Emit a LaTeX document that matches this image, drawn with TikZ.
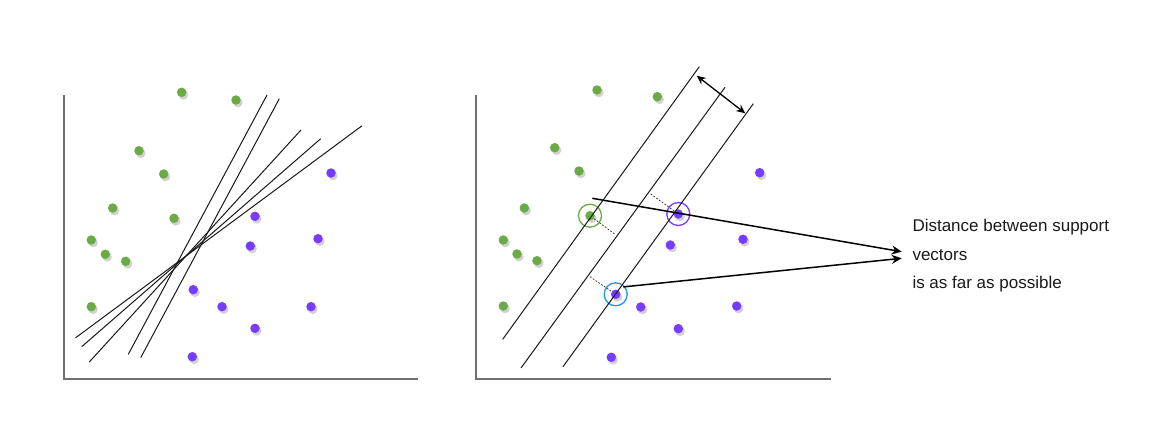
\documentclass[tikz,border=0pt]{standalone}
\usepackage{fontspec}
\setmainfont{Liberation Sans}
\usetikzlibrary{arrows.meta,shadows}
\definecolor{dotgreen}{RGB}{106,171,70}
\definecolor{dotpurple}{RGB}{118,60,255}
\definecolor{ringblue}{RGB}{30,150,240}
\definecolor{axisgray}{RGB}{112,112,112}
\definecolor{txt}{RGB}{25,25,25}
\tikzset{
  dotbase/.style={circle, inner sep=0pt, minimum size=9.5pt, draw=none,
    drop shadow={shadow xshift=1.8pt, shadow yshift=-2.6pt, fill=black, opacity=0.18}},
  gdot/.style={dotbase, fill=dotgreen},
  pdot/.style={dotbase, fill=dotpurple},
  ring/.style={circle, inner sep=0pt, minimum size=23pt, line width=1.3pt, fill=none},
  axisline/.style={draw=axisgray, line width=1.4pt},
  sepline/.style={draw=black!90, line width=1pt},
  pointer/.style={draw=black, line width=1.5pt, -{Stealth[length=10pt,width=9pt]}},
  gap/.style={draw=black, line width=1.3pt, {Stealth[length=9pt,width=8pt]}-{Stealth[length=9pt,width=8pt]}},
  dotted link/.style={draw=black!85, line width=0.7pt, dash pattern=on 1.8pt off 1.6pt},
  label/.style={anchor=base west, inner sep=0pt, text=txt, font=\fontsize{17}{20}\selectfont}
}
\begin{document}
\begin{tikzpicture}[x=1pt,y=-1pt]
\useasboundingbox (0,0) rectangle (1176,447);

% ---------------- left panel ----------------
\coordinate (LO) at (64,379);
\coordinate (LT) at (64,95);
\coordinate (LR) at (418,379);
\draw[axisline] (LT) -- (LO) -- (LR);

\node[gdot] (lg1) at (181.7,92.3) {};
\node[gdot] (lg2) at (236,100) {};
\node[gdot] (lg3) at (139,150.7) {};
\node[gdot] (lg4) at (163.7,174) {};
\node[gdot] (lg5) at (112.7,208) {};
\node[gdot] (lg6) at (174,218.3) {};
\node[gdot] (lg7) at (91.3,240) {};
\node[gdot] (lg8) at (105.3,254.3) {};
\node[gdot] (lg9) at (125.7,261.3) {};
\node[gdot] (lg10) at (91.3,306.7) {};

\node[pdot] (lp1) at (331,173) {};
\node[pdot] (lp2) at (255,216.3) {};
\node[pdot] (lp3) at (318,238.7) {};
\node[pdot] (lp4) at (250.3,246) {};
\node[pdot] (lp5) at (193.3,289.7) {};
\node[pdot] (lp6) at (222,306.7) {};
\node[pdot] (lp7) at (311,306.7) {};
\node[pdot] (lp8) at (255,328.3) {};
\node[pdot] (lp9) at (192.3,356.7) {};

\coordinate (l1a) at (75.7,337.7);  \coordinate (l1b) at (361.7,126);
\coordinate (l2a) at (81.7,346.7);  \coordinate (l2b) at (320.7,138.7);
\coordinate (l3a) at (89.3,362);    \coordinate (l3b) at (301,130);
\coordinate (l4a) at (128.3,354.3); \coordinate (l4b) at (267,95);
\coordinate (l5a) at (140.7,357.7); \coordinate (l5b) at (279.3,98.7);
\draw[sepline] (l1a) -- (l1b);
\draw[sepline] (l2a) -- (l2b);
\draw[sepline] (l3a) -- (l3b);
\draw[sepline] (l4a) -- (l4b);
\draw[sepline] (l5a) -- (l5b);

% ---------------- right panel ----------------
\coordinate (RO) at (476,379);
\coordinate (RT) at (476,95);
\coordinate (RR) at (831,379);
\draw[axisline] (RT) -- (RO) -- (RR);

\node[gdot] (rg1) at (597,90) {};
\node[gdot] (rg2) at (657.3,96.7) {};
\node[gdot] (rg3) at (554.7,147.7) {};
\node[gdot] (rg4) at (579,171) {};
\node[gdot] (rg5) at (524.3,208) {};
\node[gdot] (rg6) at (590,215.7) {};
\node[gdot] (rg7) at (503.3,240) {};
\node[gdot] (rg8) at (517,254) {};
\node[gdot] (rg9) at (537,260.7) {};
\node[gdot] (rg10) at (503.3,306) {};

\node[pdot] (rp1) at (759.7,172.7) {};
\node[pdot] (rp2) at (678.3,214) {};
\node[pdot] (rp3) at (743,239.3) {};
\node[pdot] (rp4) at (670.3,245) {};
\node[pdot] (rp5) at (615.7,294.3) {};
\node[pdot] (rp6) at (640.7,307) {};
\node[pdot] (rp7) at (736.7,306) {};
\node[pdot] (rp8) at (678.3,328.7) {};
\node[pdot] (rp9) at (611.3,357.3) {};

% support vector rings
\node[ring, draw=dotgreen] (ringg) at (rg6) {};
\node[ring, draw=dotpurple] (ringp) at (rp2) {};
\node[ring, draw=ringblue] (ringb) at (rp5) {};

% margin lines
\coordinate (mAa) at (502.7,339.3); \coordinate (mAb) at (699.3,66.7);
\coordinate (mBa) at (521,368);     \coordinate (mBb) at (725,87.3);
\coordinate (mCa) at (563,366.7);   \coordinate (mCb) at (753.3,103.7);
\draw[sepline] (mAa) -- (mAb);
\draw[sepline] (mBa) -- (mBb);
\draw[sepline] (mCa) -- (mCb);

% perpendicular distances
\coordinate (dg) at (615,234.3);
\coordinate (dp) at (650.7,194);
\coordinate (db) at (590,276.7);
\draw[dotted link] (rg6) -- (dg);
\draw[dotted link] (dp) -- (rp2);
\draw[dotted link] (db) -- (rp5);

% margin width arrow
\coordinate (wa) at (696.7,75.7);
\coordinate (wb) at (745.3,113.3);
\draw[gap] (wa) -- (wb);

% label and pointers
\coordinate (s1) at (592.3,198.3);
\coordinate (t1) at (901.7,251.7);
\coordinate (s2) at (623.3,286.9);
\coordinate (t2) at (901.7,258.3);
\draw[pointer] (s1) -- (t1);
\draw[pointer] (s2) -- (t2);

\node[label] (txt1) at (912.3,231) {Distance between support};
\node[label] (txt2) at (912.3,260) {vectors};
\node[label] (txt3) at (912.3,288.5) {is as far as possible};
\end{tikzpicture}
\end{document}
